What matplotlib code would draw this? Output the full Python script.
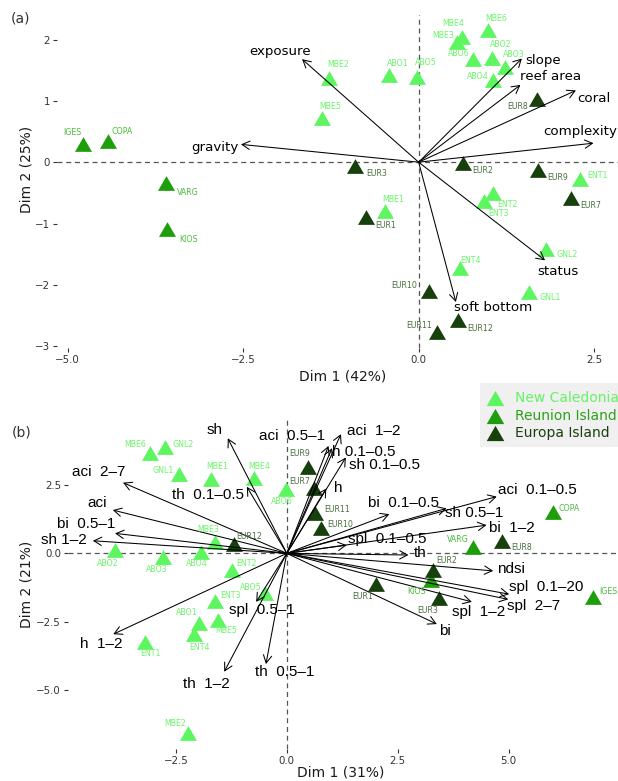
import numpy as np
import matplotlib
matplotlib.use("Agg")
import matplotlib.pyplot as plt

# ---------------------------------------------------------------
# DATA
# ---------------------------------------------------------------

groups = ["New Caledonia", "Reunion Island", "Europa Island"]
group_cols = ["#5DF560", "#1F9E0B", "#18400C"]
label_cols = ["#6CF56C", "#4DBA3E", "#4B7040"]

# panel (a) sites: name, Dim 1, Dim 2, group index
sites_a = ["IGES", "COPA", "VARG", "KIOS", "MBE2", "MBE5", "ABO1", "ABO5",
           "MBE4", "MBE3", "MBE6", "ABO6", "ABO2", "ABO3", "ABO4", "EUR8",
           "EUR3", "EUR2", "EUR9", "ENT1", "EUR7", "ENT2", "ENT3", "MBE1",
           "EUR1", "GNL2", "ENT4", "GNL1", "EUR10", "EUR12", "EUR11"]
dim1_a = [-4.78, -4.42, -3.60, -3.58, -1.28, -1.38, -0.42, -0.02,
          0.62, 0.55, 0.99, 0.78, 1.05, 1.23, 1.06, 1.69,
          -0.90, 0.63, 1.70, 2.30, 2.17, 1.06, 0.93, -0.48,
          -0.75, 1.82, 0.59, 1.57, 0.15, 0.56, 0.26]
dim2_a = [0.29, 0.34, -0.34, -1.09, 1.37, 0.72, 1.42, 1.39,
          2.04, 1.96, 2.15, 1.68, 1.70, 1.55, 1.34, 1.03,
          -0.06, -0.02, -0.13, -0.27, -0.59, -0.50, -0.64, -0.80,
          -0.90, -1.41, -1.72, -2.12, -2.10, -2.58, -2.77]
grp_a = [1, 1, 1, 1, 0, 0, 0, 0, 0, 0, 0, 0, 0, 0, 0, 2,
         2, 2, 2, 0, 2, 0, 0, 0, 2, 0, 0, 0, 2, 2, 2]

# panel (a) variables
vars_a = ["exposure", "gravity", "slope", "reef area", "coral",
          "complexity", "status", "soft bottom"]
vx_a = [-1.66, -2.53, 1.47, 1.45, 2.24, 2.49, 1.80, 0.53]
vy_a = [1.68, 0.29, 1.69, 1.26, 1.17, 0.31, -1.60, -2.28]

# panel (b) sites
sites_b = ["MBE6", "GNL2", "GNL1", "MBE1", "MBE4", "ABO6", "MBE3", "EUR12",
           "ABO2", "ABO3", "ABO4", "ENT2", "ABO5", "ENT3", "ABO1", "MBE5",
           "ENT4", "ENT1", "MBE2", "EUR9", "EUR7", "EUR11", "EUR10", "COPA",
           "VARG", "EUR8", "EUR2", "KIOS", "EUR1", "EUR3", "IGES"]
dim1_b = [-3.08, -2.74, -2.43, -1.70, -0.75, -0.02, -1.61, -1.20,
          -3.87, -2.80, -1.93, -1.23, -0.49, -1.61, -1.97, -1.54,
          -2.08, -3.19, -2.22, 0.47, 0.62, 0.64, 0.77, 6.00,
          4.20, 4.86, 3.29, 3.24, 2.01, 3.44, 6.89]
dim2_b = [3.65, 3.87, 2.89, 2.70, 2.74, 2.34, 0.42, 0.34,
          0.12, -0.12, 0.06, -0.61, -1.46, -1.73, -2.53, -2.43,
          -2.95, -3.23, -6.55, 3.16, 2.37, 1.48, 0.91, 1.52,
          0.24, 0.46, -0.61, -0.97, -1.10, -1.64, -1.61]
grp_b = [0, 0, 0, 0, 0, 0, 0, 2, 0, 0, 0, 0, 0, 0, 0, 0,
         0, 0, 0, 2, 2, 2, 2, 1, 1, 2, 2, 1, 2, 2, 1]

# panel (b) variables
vars_b = ["sh", "aci  2\u20137", "aci", "bi  0.5\u20131", "sh 1\u20132",
          "th  0.1\u20130.5", "aci  0.5\u20131", "aci  1\u20132", "h 0.1\u20130.5",
          "sh 0.1\u20130.5", "h", "bi  0.1\u20130.5", "aci  0.1\u20130.5",
          "sh 0.5\u20131", "bi  1\u20132", "spl  0.1\u20130.5", "th", "ndsi",
          "spl  0.1\u201320", "spl  2\u20137", "spl  1\u20132", "bi", "h  1\u20132",
          "spl  0.5\u20131", "th  1\u20132", "th  0.5\u20131"]
vx_b = [-1.33, -3.69, -3.92, -3.87, -4.37, -0.90, 0.94, 1.22, 1.02,
        1.33, 0.89, 2.31, 4.73, 3.60, 4.50, 1.35, 2.74, 4.65,
        5.01, 4.99, 4.17, 3.38, -3.91, -0.69, -1.41, -0.47]
vy_b = [4.20, 2.58, 1.58, 0.73, 0.46, 2.43, 3.92, 4.35, 3.84,
        3.50, 2.37, 1.43, 2.07, 1.64, 1.03, 0.30, -0.06, -0.64,
        -1.49, -1.68, -1.77, -2.58, -2.95, -1.77, -4.32, -4.04]

# ---------------------------------------------------------------
# LAYOUT (label offsets in pixels, image orientation: +y is down)
# ---------------------------------------------------------------

off_a = [(-11, -12), (14, -10), (22, 9), (21, 10), (9, -14), (8, -12), (9, -12), (9, -14),
         (-9, -14), (-14, -6), (8, -12), (-15, -6), (8, -13), (9, -13), (-15, -4), (-20, 7),
         (21, 8), (20, 7), (20, 7), (17, -3), (20, 7), (14, 12), (15, 12), (8, -12),
         (20, 8), (21, 6), (10, -7), (21, 5), (-25, -5), (22, 8), (-18, -7)]
voff_a = [(-22, -8), (-26, 3), (21, 2), (30, -8), (18, 8), (-13, -12), (13, 11), (37, 5)]

off_b = [(-15, -9), (18, -3), (-16, -4), (6, -13), (6, -12), (-4, 12), (-7, -12), (16, -8),
         (-7, 13), (-6, 13), (-4, 12), (14, -7), (-14, -6), (15, -5), (-13, -10), (8, 11),
         (5, 13), (5, 12), (-13, -9), (-8, -13), (-15, -7), (22, -3), (19, -4), (16, -3),
         (-15, -7), (19, 7), (14, -10), (-14, 12), (-13, 13), (-12, 12), (16, -6)]
voff_b = [(-13, -8), (-24, -11), (-16, -7), (-29, -9), (-29, -1), (-39, 8), (-36, -10),
          (33, -3), (32, 4), (39, 8), (12, 0), (14, -11), (41, -7), (28, 5), (25, 3),
          (41, -6), (12, -2), (18, -2), (37, -7), (25, 7), (7, 10), (8, 7), (-12, 10),
          (6, 8), (-18, 12), (19, 8)]

W, H = 618, 781
tri = [(-1, -0.866), (1, -0.866), (0, 0.866), (-1, -0.866)]

fig = plt.figure(figsize=(W / 100, H / 100), dpi=100)


def px_axes(left, right, top, bottom):
    return fig.add_axes([left / W, 1 - bottom / H, (right - left) / W, (bottom - top) / H])


def style(ax, xt, xl, yt, yl):
    for s in ax.spines.values():
        s.set_visible(False)
    ax.set_xticks(xt)
    ax.set_xticklabels(xl)
    ax.set_yticks(yt)
    ax.set_yticklabels(yl)
    ax.tick_params(length=3, width=0.8, color="#333333", labelcolor="#333333",
                   labelsize=7.4, pad=2)
    ax.axhline(0, color="#555555", lw=0.9, ls=(0, (4, 3)), zorder=1)
    ax.axvline(0, color="#555555", lw=0.9, ls=(0, (4, 3)), zorder=1)


def draw_panel(ax, x, y, g, names, offs, vx, vy, vnames, voffs, vfont, vsize):
    for i in range(3):
        idx = [k for k in range(len(x)) if g[k] == i]
        ax.scatter([x[k] for k in idx], [y[k] for k in idx], marker=tri, s=150,
                   color=group_cols[i], linewidths=0, zorder=3)
    for k in range(len(x)):
        ax.annotate(names[k], (x[k], y[k]), xytext=(offs[k][0], -offs[k][1]),
                    textcoords="offset pixels", ha="center", va="center",
                    fontsize=5.7, color=label_cols[g[k]], zorder=5)
    for k in range(len(vx)):
        ax.annotate("", xy=(vx[k], vy[k]), xytext=(0, 0),
                    arrowprops=dict(arrowstyle="->,head_length=0.55,head_width=0.3",
                                    lw=0.75, color="black", shrinkA=0, shrinkB=0,
                                    mutation_scale=10), zorder=4)
        ax.annotate(vnames[k], (vx[k], vy[k]), xytext=(voffs[k][0], -voffs[k][1]),
                    textcoords="offset pixels", ha="center", va="center",
                    fontsize=vsize, family=vfont, color="black", zorder=6)


# panel (a)
ax1 = px_axes(57, 630, 15, 348)
ax1.set_xlim(-5.15, 3.01)
ax1.set_ylim(-3.03, 2.40)
style(ax1, [-5, -2.5, 0, 2.5], ["\u22125.0", "\u22122.5", "0.0", "2.5"],
      [-3, -2, -1, 0, 1, 2], ["\u22123", "\u22122", "\u22121", "0", "1", "2"])
draw_panel(ax1, dim1_a, dim2_a, grp_a, sites_a, off_a, vx_a, vy_a, vars_a, voff_a,
           "DejaVu Sans", 9.6)

# panel (b)
ax2 = px_axes(68, 617, 418, 749)
ax2.set_xlim(-4.93, 7.44)
ax2.set_ylim(-7.14, 4.94)
style(ax2, [-2.5, 0, 2.5, 5], ["\u22122.5", "0.0", "2.5", "5.0"],
      [-5, -2.5, 0, 2.5], ["\u22125.0", "\u22122.5", "0.0", "2.5"])
draw_panel(ax2, dim1_b, dim2_b, grp_b, sites_b, off_b, vx_b, vy_b, vars_b, voff_b,
           "Liberation Sans", 11)

# overlay in image pixels for titles and legend
ov = fig.add_axes([0, 0, 1, 1])
ov.set_xlim(0, W)
ov.set_ylim(H, 0)
ov.axis("off")

ov.text(20, 18, "(a)", fontsize=10, color="#333333", ha="center", va="center")
ov.text(22, 432, "(b)", fontsize=10, color="#333333", ha="center", va="center")
ov.text(343, 376, "Dim 1 (42%)", fontsize=10, color="#1a1a1a", ha="center", va="center")
ov.text(341, 773, "Dim 1 (31%)", fontsize=10, color="#1a1a1a", ha="center", va="center")
ov.text(27, 169, "Dim 2 (25%)", fontsize=10, color="#1a1a1a", ha="center", va="center",
        rotation=90)
ov.text(27, 584, "Dim 2 (21%)", fontsize=10, color="#1a1a1a", ha="center", va="center",
        rotation=90)

# legend
ov.add_patch(plt.Rectangle((480, 383), 145, 64, color="#F0F0F0", lw=0, zorder=1))
leg_y = [398, 415.5, 433]
legend_text_cols = ["#66F266", "#2DA11A", "#1A4010"]
for i in range(3):
    ov.scatter([495], [leg_y[i]], marker=tri, s=160, color=group_cols[i], linewidths=0,
               zorder=2)
    ov.text(515, leg_y[i], groups[i], fontsize=10, color=legend_text_cols[i],
            ha="left", va="center", zorder=3)

fig.savefig("out.png", dpi=100)
